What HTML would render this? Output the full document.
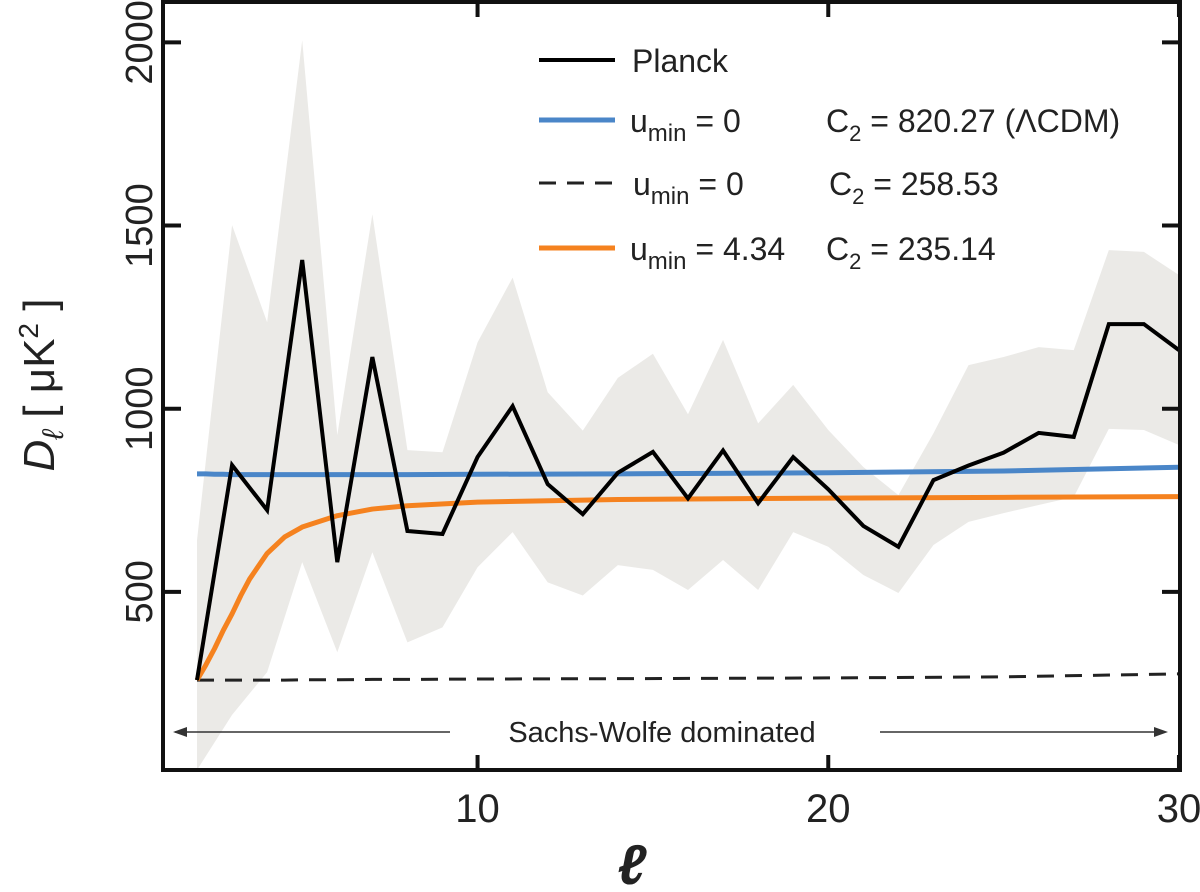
<!DOCTYPE html>
<html><head><meta charset="utf-8"><style>
body{margin:0;background:#fff;width:1200px;height:892px;overflow:hidden}
svg{display:block}
text{font-family:"Liberation Sans",sans-serif;fill:#222}
</style></head><body>
<svg id="chart" width="1200" height="892" viewBox="0 0 1200 892">
<g id="band"></g>
<g id="series"></g>
<g id="axes"></g>
<g>
 <line x1="539" y1="60" x2="615" y2="60" stroke="#000" stroke-width="4"/>
 <text x="632" y="72" font-size="32">Planck</text>
 <line x1="539" y1="120" x2="615" y2="120" stroke="#4a86c8" stroke-width="5"/>
 <text x="630" y="132" font-size="32">u<tspan font-size="24" dy="9">min</tspan><tspan dy="-9"> = 0</tspan><tspan x="826">C</tspan><tspan font-size="22" dy="9">2</tspan><tspan dy="-9"> = 820.27 (ΛCDM)</tspan></text>
 <line x1="539" y1="183" x2="615" y2="183" stroke="#222" stroke-width="3" stroke-dasharray="17,11"/>
 <text x="633" y="195" font-size="32">u<tspan font-size="24" dy="9">min</tspan><tspan dy="-9"> = 0</tspan><tspan x="829">C</tspan><tspan font-size="22" dy="9">2</tspan><tspan dy="-9"> = 258.53</tspan></text>
 <line x1="539" y1="248" x2="615" y2="248" stroke="#f5821f" stroke-width="5"/>
 <text x="630" y="260" font-size="32">u<tspan font-size="24" dy="9">min</tspan><tspan dy="-9"> = 4.34</tspan><tspan x="826">C</tspan><tspan font-size="22" dy="9">2</tspan><tspan dy="-9"> = 235.14</tspan></text>
</g>
<g>
 <line x1="175" y1="732" x2="450" y2="732" stroke="#333" stroke-width="1.5"/>
 <path d="M173,732 l14,-5 v10 z" fill="#333"/>
 <line x1="880" y1="732" x2="1160" y2="732" stroke="#333" stroke-width="1.5"/>
 <path d="M1168,732 l-14,-5 v10 z" fill="#333"/>
 <text x="662" y="742" text-anchor="middle" font-size="29">Sachs-Wolfe dominated</text>
</g>
<text x="632" y="884" text-anchor="middle" font-size="56" font-style="italic" font-weight="bold" font-family="Liberation Serif,serif">ℓ</text>
<text transform="translate(54,385) rotate(-90)" text-anchor="middle" font-size="44"><tspan font-style="italic">D</tspan><tspan font-size="30" dy="9" font-style="italic">ℓ</tspan><tspan dy="-9"> [ μK</tspan><tspan font-size="28" dy="-16">2</tspan><tspan dy="16"> ]</tspan></text>
</svg>
<script>
const ells=[2,3,4,5,6,7,8,9,10,11,12,13,14,15,16,17,18,19,20,21,22,23,24,25,26,27,28,29,30];
const planck=[259,846,723,1406,581,1141,666,658,868,1007,794,712,825,882,755,886,742,868,780,680,623,805,845,880,934,923,1231,1231,1160];
const upper=[641,1501,1236,2006,928,1531,887,881,1181,1358,1045,940,1084,1150,985,1188,960,1065,942,841,764,933,1119,1141,1168,1160,1433,1428,1365];
const lower=[0,164,281,581,335,608,362,403,567,663,526,490,573,560,505,587,505,663,623,546,497,628,691,715,737,759,945,942,901];
const modelL=[2,2.25,2.5,2.75,3,3.25,3.5,4,4.5,5,6,7,8,10,14,20,25,30];
const lcdm=[822,822,821,821,820,820,820,820,820,820,820,820,820,821,822,825,830,840];
const dashed=[259,259,259,259,259,259,259,259,259,260,260,261,261,262,263,265,268,276];
const orange=[259,300,345,395,440,490,535,605,650,677,708,726,735,745,752,756,758,760];
const yTicks=[500,1000,1500,2000];
const xTicks=[10,20,30];
const X0=163,X1=1180,Y0=770,Ytop=2;
const xs=l=>197+(l-2)*35.07;
const ys=v=>775-v*0.3663;
const NS='http://www.w3.org/2000/svg';
function mk(p,tag,a){const e=document.createElementNS(NS,tag);for(const k in a)e.setAttribute(k,a[k]);p.appendChild(e);return e;}
const band=document.getElementById('band'),ser=document.getElementById('series'),ax=document.getElementById('axes');
let d='';ells.forEach((l,i)=>d+=(i?'L':'M')+xs(l)+','+Math.min(ys(upper[i]),Y0));
for(let i=ells.length-1;i>=0;i--)d+='L'+xs(ells[i])+','+Math.min(ys(lower[i]),Y0);
const bp=mk(band,'path',{d:d+'Z',fill:'#ebeae7'});


function line(xsArr,vals,attrs,name){const pts=xsArr.map((l,i)=>xs(l)+','+ys(vals[i])).join(' ');const e=mk(ser,'polyline',Object.assign({points:pts,fill:'none'},attrs));

}
line(modelL,dashed,{stroke:'#222','stroke-width':3,'stroke-dasharray':'17,11'},'dashed-model-line');
line(modelL,lcdm,{stroke:'#4a86c8','stroke-width':5},'lcdm-line');
line(modelL,orange,{stroke:'#f5821f','stroke-width':5,'stroke-linejoin':'round'},'orange-model-line');
line(ells,planck,{stroke:'#000','stroke-width':4,'stroke-linejoin':'miter'},'planck-line');
const fr=mk(ax,'rect',{x:X0,y:Ytop,width:X1-X0,height:Y0-Ytop,fill:'none',stroke:'#111','stroke-width':4});


yTicks.forEach(v=>{const y=ys(v);mk(ax,'line',{x1:X0,x2:X0+18,y1:y,y2:y,stroke:'#111','stroke-width':4});mk(ax,'line',{x1:X1-18,x2:X1,y1:y,y2:y,stroke:'#111','stroke-width':4});
const t=mk(ax,'text',{x:138,y:y+14,'text-anchor':'middle',transform:'rotate(-90 138 '+y+')','font-size':38});t.textContent=v;

});
xTicks.forEach(l=>{const x=xs(l);mk(ax,'line',{x1:x,x2:x,y1:Y0-15,y2:Y0,stroke:'#111','stroke-width':4});mk(ax,'line',{x1:x,x2:x,y1:Ytop,y2:Ytop+15,stroke:'#111','stroke-width':4});
const t=mk(ax,'text',{x:x,y:822,'text-anchor':'middle','font-size':40});t.textContent=l;

});
</script>
</body></html>
